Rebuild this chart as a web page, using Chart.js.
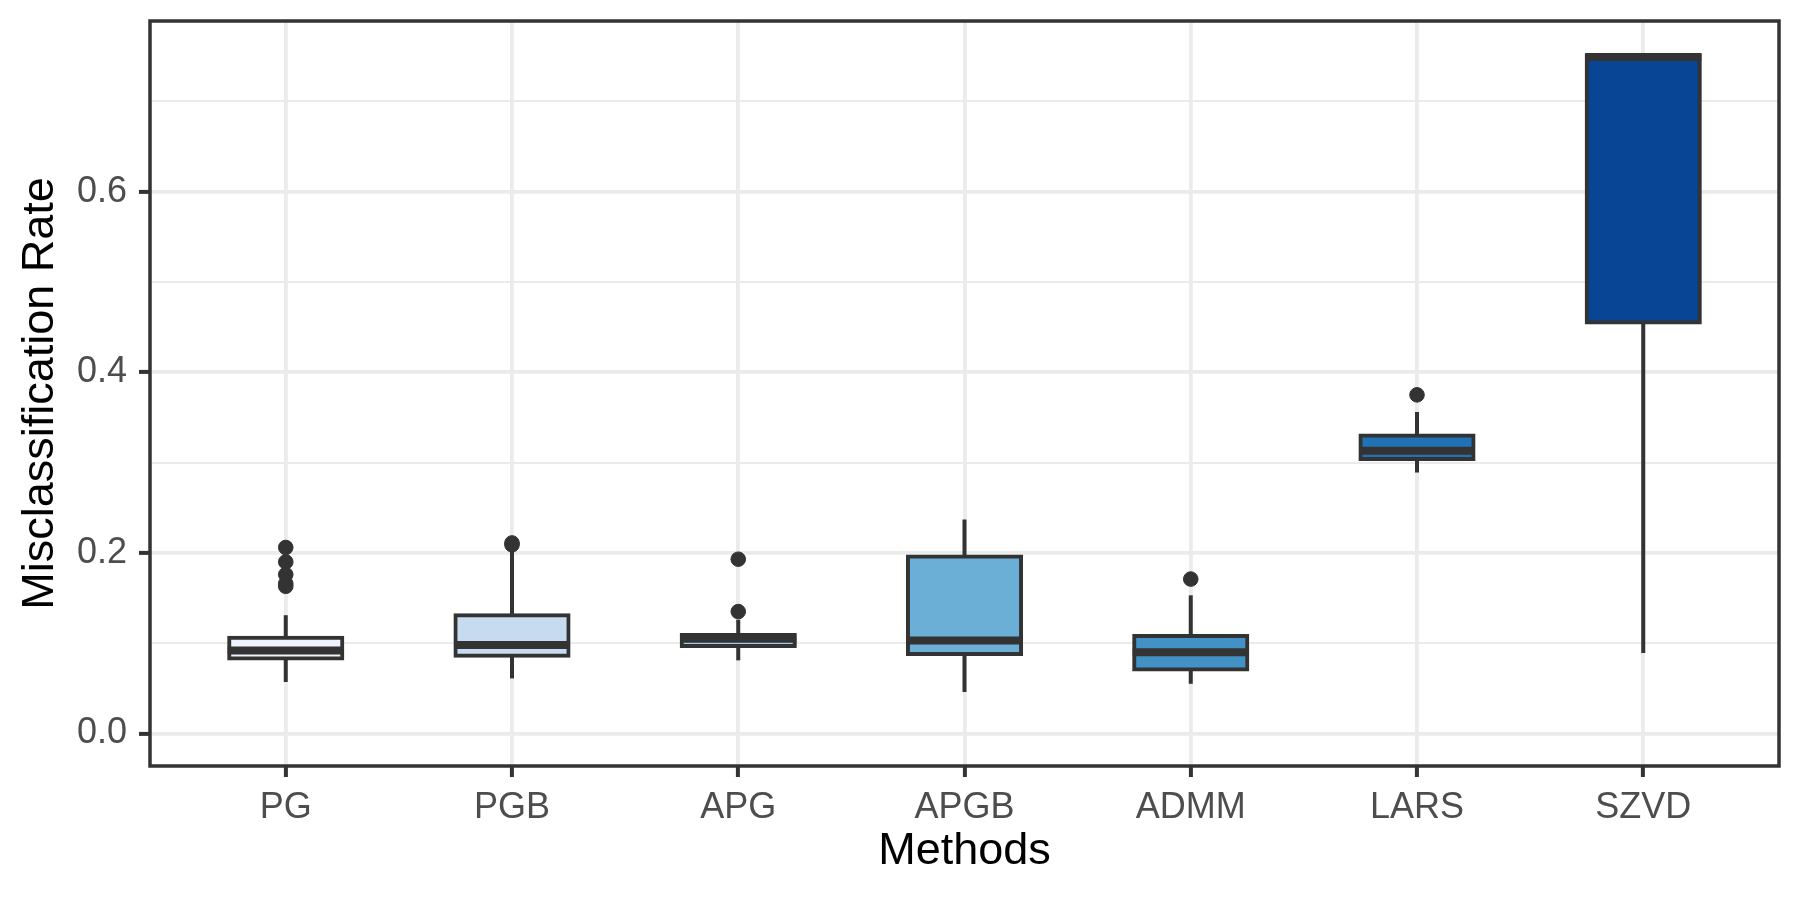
<!DOCTYPE html>
<html>
<head>
<meta charset="utf-8">
<title>Misclassification Rate by Method</title>
<script src="https://cdn.jsdelivr.net/npm/chart.js@4.4.1/dist/chart.umd.min.js"></script>
<style>
    html, body { margin: 0; padding: 0; background: #fff; }
    canvas { display: block; }
</style>
</head>
<body>
<canvas id="grafico" width="1800" height="900"></canvas>
<script>
// Box plot summaries
const methods = ['PG', 'PGB', 'APG', 'APGB', 'ADMM', 'LARS', 'SZVD'];
const whiskerLow = [0.057, 0.061, 0.081, 0.046, 0.055, 0.289, 0.089];
const q1 = [0.083, 0.086, 0.097, 0.088, 0.071, 0.304, 0.455];
const medians = [0.092, 0.098, 0.105, 0.103, 0.090, 0.313, 0.749];
const q3 = [0.106, 0.131, 0.109, 0.196, 0.108, 0.330, 0.751];
const whiskerHigh = [0.131, 0.202, 0.126, 0.237, 0.153, 0.356, 0.751];
const outliers = [
    [0.206, 0.190, 0.176, 0.166, 0.163],
    [0.209, 0.211],
    [0.135, 0.193],
    [],
    [0.171],
    [0.375],
    []
];
const boxColors = ['#EFF3FF', '#C6DBEF', '#9ECAE1', '#6BAED6', '#4292C6', '#2171B5', '#084594'];
const yTickLabels = ['0.0', '0.2', '0.4', '0.6'];

const dark = '#333333';
const font = 'Liberation Sans, Arial, sans-serif';

// panel border like ggplot theme_bw
const panelBorder = {
    id: 'panelBorder',
    afterDraw(chart) {
        const { ctx, chartArea: a } = chart;
        ctx.save();
        ctx.strokeStyle = dark;
        ctx.lineWidth = 3.5;
        ctx.strokeRect(a.left, a.top, a.right - a.left, a.bottom - a.top);
        ctx.restore();
    }
};

const outlierPoints = [];
outliers.forEach((lista, i) => lista.forEach(v => outlierPoints.push({ x: i, y: v })));

function majorY(v) {
    return Math.round(v * 10) % 2 === 0;
}

new Chart(document.getElementById('grafico'), {
    type: 'bar',
    data: {
        datasets: [
            {
                label: 'whiskers',
                data: methods.map((m, i) => ({ x: i, y: [whiskerLow[i], whiskerHigh[i]] })),
                backgroundColor: dark,
                borderWidth: 0,
                grouped: false,
                maxBarThickness: 4,
                order: 4
            },
            {
                label: 'boxes',
                data: methods.map((m, i) => ({ x: i, y: [q1[i], q3[i]] })),
                backgroundColor: boxColors,
                borderColor: dark,
                borderWidth: 4,
                borderSkipped: false,
                inflateAmount: 2,   // centre the outline on the quartiles, as ggplot does
                grouped: false,
                barPercentage: 0.5,
                categoryPercentage: 1,
                order: 3
            },
            {
                type: 'scatter',
                label: 'medians',
                data: methods.map((m, i) => ({ x: i, y: medians[i] })),
                pointStyle: 'line',
                pointRadius: 58,
                pointHoverRadius: 58,
                borderColor: dark,
                borderWidth: 8,
                order: 2
            },
            {
                type: 'scatter',
                label: 'outliers',
                data: outlierPoints,
                pointStyle: 'circle',
                pointRadius: 7.3,
                pointHoverRadius: 7.3,
                backgroundColor: dark,
                borderColor: dark,
                borderWidth: 1,
                order: 1
            }
        ]
    },
    options: {
        responsive: false,
        animation: false,
        devicePixelRatio: 1,
        layout: {
            autoPadding: false,
            padding: { top: 21, right: 21, left: 0, bottom: 0 }
        },
        plugins: {
            legend: { display: false },
            tooltip: { enabled: false }
        },
        scales: {
            x: {
                type: 'linear',
                min: -0.6,
                max: 6.6,
                offset: false,
                border: { display: false },
                grid: {
                    offset: false,
                    color: '#EBEBEB',
                    lineWidth: 3.8,
                    tickColor: dark,
                    tickWidth: 4,
                    tickLength: 11
                },
                ticks: {
                    stepSize: 1,
                    includeBounds: false,
                    autoSkip: false,
                    maxRotation: 0,
                    padding: 9,
                    color: '#4D4D4D',
                    font: { family: font, size: 36 },
                    callback: v => Number.isInteger(v) ? methods[v] : ''
                },
                title: {
                    display: true,
                    text: 'Methods',
                    color: '#000',
                    font: { family: font, size: 45 },
                    padding: { top: 0, bottom: 21 }
                },
                afterFit(s) {
                    s.height = 134;
                    s.paddingLeft = 0;
                    s.paddingRight = 0;
                }
            },
            y: {
                min: -0.036,
                max: 0.789,
                border: { display: false },
                grid: {
                    color: '#EBEBEB',
                    lineWidth: c => majorY(c.tick.value) ? 3.8 : 2,
                    tickColor: c => majorY(c.tick.value) ? dark : 'rgba(0,0,0,0)',
                    tickWidth: 4,
                    tickLength: 11
                },
                ticks: {
                    stepSize: 0.1,
                    includeBounds: false,
                    padding: 12,
                    color: '#4D4D4D',
                    font: { family: font, size: 36 },
                    callback: v => majorY(v) ? yTickLabels[Math.round(v * 5)] : ''
                },
                title: {
                    display: true,
                    text: 'Misclassification Rate',
                    color: '#000',
                    font: { family: font, size: 45 },
                    padding: { top: 14, bottom: 0 }
                },
                afterFit(s) {
                    s.width = 150;
                    s.paddingTop = 0;
                    s.paddingBottom = 0;
                }
            }
        }
    },
    plugins: [panelBorder]
});
</script>
</body>
</html>
